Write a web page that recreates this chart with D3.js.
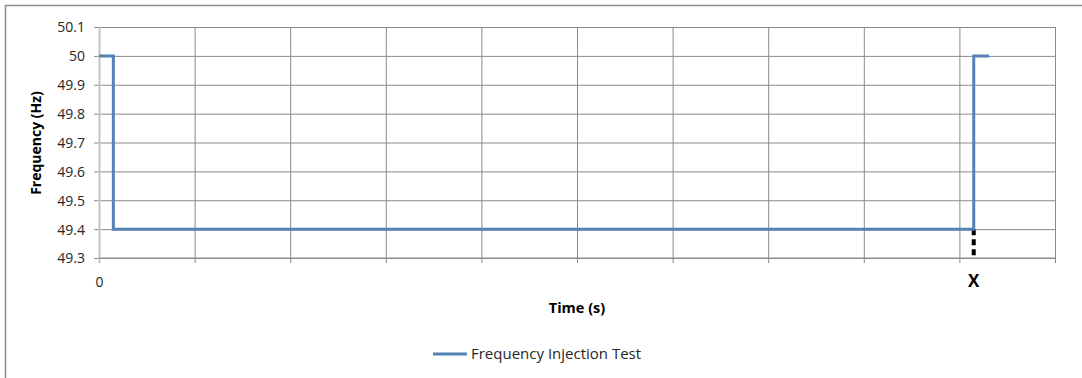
<!DOCTYPE html>
<html>
<head>
<meta charset="utf-8">
<script src="https://cdn.jsdelivr.net/npm/d3@7"></script>
<style>
  html, body { margin: 0; padding: 0; background: #fff; }
  svg { display: block; }
  svg text { font-family: "Open Sans", "Noto Sans", sans-serif; }
</style>
</head>
<body>
<svg id="chart" width="1082" height="378"></svg>
<script>
// Step trace of the injected grid frequency (x in category units, y in Hz)
const timeSteps = [0, 0.15, 0.15, 9.15, 9.15, 9.31];
const frequencyHz = [50, 50, 49.4, 49.4, 50, 50];
const yTicks = [49.3, 49.4, 49.5, 49.6, 49.7, 49.8, 49.9, 50, 50.1];
const xCategories = [0, 1, 2, 3, 4, 5, 6, 7, 8, 9, 10];
const xTickLabels = ["0", "", "", "", "", "", "", "", "", "", ""];
const markerTime = [9.15];
const markerLabel = ["X"];
const seriesName = ["Frequency Injection Test"];

const svg = d3.select("#chart");
const plot = { left: 99, right: 1055, top: 27, bottom: 258 };

const x = d3.scaleLinear().domain([0, 10]).range([plot.left, plot.right]);
const y = d3.scaleLinear().domain([49.3, 50.1]).range([plot.bottom, plot.top]);

// Outer chart frame
svg.append("path")
  .attr("d", `M5.5,378 V5.5 H1082`)
  .attr("fill", "none")
  .attr("stroke", "#8c8c8c")
  .attr("stroke-width", 1.5);

// Horizontal gridlines + y axis labels
const yAxis = d3.axisLeft(y).tickValues(yTicks)
  .tickSize(5)
  .tickFormat(d => d3.format("~g")(d));
const gy = svg.append("g")
  .attr("transform", `translate(${plot.left},0)`)
  .call(yAxis)
  .attr("font-family", null)
  .attr("font-size", null);
gy.select(".domain").remove();
gy.selectAll(".tick line")
  .attr("x1", -5)
  .attr("x2", plot.right - plot.left)
  .attr("stroke", "#8a8a8a").attr("stroke-width", 1);
gy.selectAll(".tick text")
  .attr("x", -14)
  .attr("dy", "0.35em")
  .style("font-size", "14px")
  .attr("fill", "#262626");

// Vertical gridlines + x tick marks
const xAxis = d3.axisBottom(x).tickValues(xCategories)
  .tickSize(5)
  .tickFormat((d, i) => xTickLabels[i]);
const gx = svg.append("g")
  .attr("transform", `translate(0,${plot.bottom})`)
  .call(xAxis)
  .attr("font-family", null)
  .attr("font-size", null);
gx.select(".domain").remove();
gx.selectAll(".tick line")
  .attr("y1", -(plot.bottom - plot.top))
  .attr("y2", 5)
  .attr("stroke", (d) => d === 0 ? "#c4c4c4" : "#8a8a8a")
  .attr("stroke-width", (d) => d === 0 ? 2 : 1);
gx.selectAll(".tick text")
  .attr("y", 24)
  .attr("dy", "0.35em")
  .style("font-size", "14px")
  .attr("fill", "#262626");

// x axis line
svg.append("line")
  .attr("x1", plot.left).attr("x2", plot.right)
  .attr("y1", plot.bottom).attr("y2", plot.bottom)
  .attr("stroke", "#8a8a8a").attr("stroke-width", 1);

// Marker at the return step
svg.selectAll(".marker-dash")
  .data(markerTime)
  .join("line")
  .attr("class", "marker-dash")
  .attr("x1", d => x(d)).attr("x2", d => x(d))
  .attr("y1", y(49.4)).attr("y2", y(49.3))
  .attr("stroke", "#000")
  .attr("stroke-width", 4)
  .attr("stroke-dasharray", "6,4");

svg.selectAll(".marker-label")
  .data(markerTime)
  .join("text")
  .attr("class", "marker-label")
  .attr("x", d => x(d))
  .attr("y", 281)
  .attr("dy", "0.35em")
  .attr("text-anchor", "middle")
  .style("font-size", "17px")
  .attr("font-weight", "bold")
  .attr("fill", "#000")
  .text((d, i) => markerLabel[i]);

// Frequency series
const pts = timeSteps.map((t, i) => [t, frequencyHz[i]]);
svg.append("path")
  .datum(pts)
  .attr("d", d3.line().x(d => x(d[0])).y(d => y(d[1])))
  .attr("fill", "none")
  .attr("stroke", "#5581b4")
  .attr("stroke-width", 3)
  .attr("stroke-linejoin", "miter");

// Axis titles
svg.append("text")
  .attr("x", 577).attr("y", 308)
  .attr("dy", "0.35em")
  .attr("text-anchor", "middle")
  .style("font-size", "14.5px")
  .attr("font-weight", "bold")
  .attr("fill", "#000")
  .text("Time (s)");

svg.append("text")
  .attr("transform", "translate(36,143) rotate(-90)")
  .attr("dy", "0.35em")
  .attr("text-anchor", "middle")
  .style("font-size", "14px")
  .attr("font-weight", "bold")
  .attr("fill", "#000")
  .text("Frequency (Hz)");

// Legend
const lg = svg.append("g").attr("transform", "translate(433,354)");
lg.append("line")
  .attr("x1", 0).attr("x2", 34)
  .attr("stroke", "#5581b4").attr("stroke-width", 3);
lg.append("text")
  .attr("x", 38).attr("dy", "0.35em")
  .style("font-size", "15px")
  .attr("fill", "#262626")
  .text(seriesName[0]);
</script>
</body>
</html>
